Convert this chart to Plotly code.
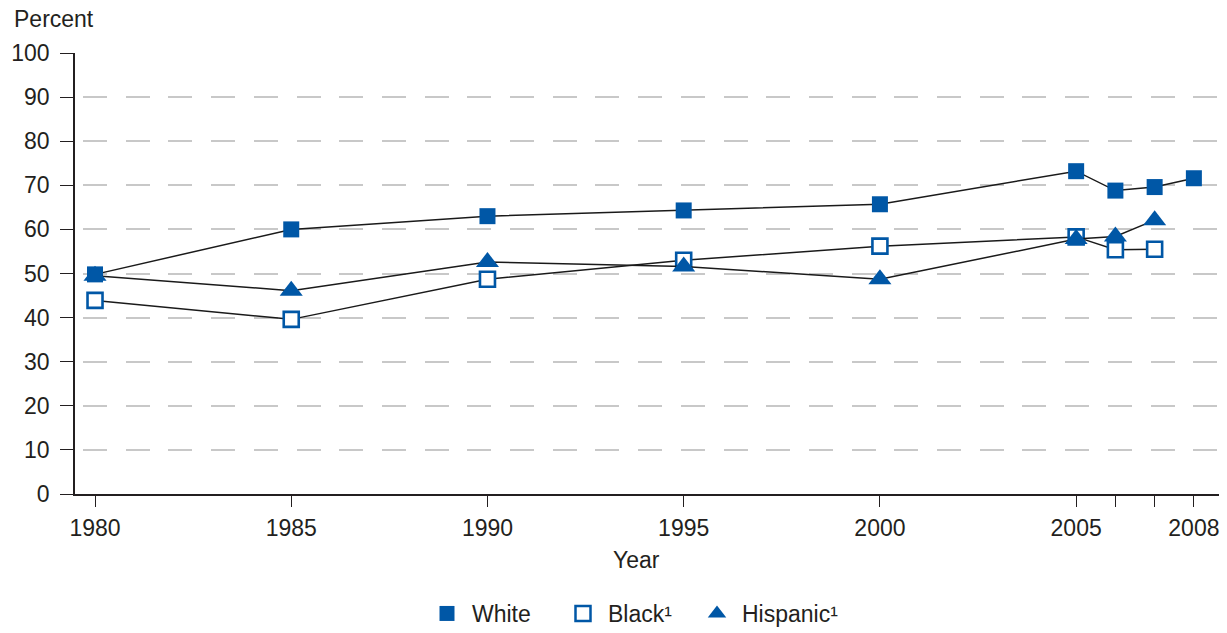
import plotly.graph_objects as go

years = [1980, 1985, 1990, 1995, 2000, 2005, 2006, 2007, 2008]
white = [49.8, 60.0, 63.0, 64.3, 65.7, 73.2, 68.8, 69.6, 71.6]
black_years = [1980, 1985, 1990, 1995, 2000, 2005, 2006, 2007]
black = [43.9, 39.6, 48.7, 53.0, 56.2, 58.3, 55.4, 55.5]
hisp_years = [1980, 1985, 1990, 1995, 2000, 2005, 2006, 2007]
hispanic = [49.5, 46.1, 52.6, 51.6, 48.7, 57.8, 58.4, 62.1]

tick_years = [1980, 1985, 1990, 1995, 2000, 2005, 2006, 2007, 2008]
tick_labels = ["1980", "1985", "1990", "1995", "2000", "2005", "", "", "2008"]
y_ticks = list(range(0, 101, 10))

BLUE = "#0057a6"
TXT = "#231f20"
FONT = "Liberation Sans, Arial, Helvetica, sans-serif"
FS = 23

W, H = 1227, 633
L, R, T, B = 75, 8, 53, 139
PW = W - L - R
PH = H - T - B

fig = go.Figure()

line = dict(color="#1a1a1a", width=1.5)

fig.add_trace(go.Scatter(x=years, y=white, mode="lines+markers", line=line,
                         marker=dict(symbol="square", size=16, color=BLUE, line=dict(width=0)),
                         showlegend=False, hoverinfo="skip"))
fig.add_trace(go.Scatter(x=black_years, y=black, mode="lines+markers", line=line,
                         marker=dict(symbol="square", size=15, color="white",
                                     line=dict(color=BLUE, width=2.6)),
                         showlegend=False, hoverinfo="skip"))
fig.add_trace(go.Scatter(x=hisp_years, y=hispanic, mode="lines+markers", line=line,
                         marker=dict(symbol="triangle-up", size=20, color=BLUE, line=dict(width=0)),
                         showlegend=False, hoverinfo="skip"))

# legend-only entries, one legend each so they can be spaced like the reference
fig.add_trace(go.Scatter(x=[None], y=[None], mode="markers", name="White", legend="legend",
                         marker=dict(symbol="square", size=15, color=BLUE)))
fig.add_trace(go.Scatter(x=[None], y=[None], mode="markers", name="Black¹", legend="legend2",
                         marker=dict(symbol="square", size=15, color="white",
                                     line=dict(color=BLUE, width=2.5))))
fig.add_trace(go.Scatter(x=[None], y=[None], mode="markers", name="Hispanic¹", legend="legend3",
                         marker=dict(symbol="triangle-up", size=18, color=BLUE)))

leg_y = -(592 - (T + PH)) / PH


def leg(px):
    return dict(orientation="h", x=(px - L) / PW, xanchor="left", y=leg_y, yanchor="top",
                font=dict(size=FS, color=TXT), itemwidth=40, bgcolor="rgba(0,0,0,0)")


fig.update_layout(
    width=W, height=H,
    margin=dict(l=L, r=R, t=T, b=B, autoexpand=False),
    paper_bgcolor="white", plot_bgcolor="white",
    font=dict(family=FONT, size=FS, color=TXT),
    showlegend=True,
    hovermode=False,
    legend=leg(422),
    legend2=leg(558),
    legend3=leg(692),
    xaxis=dict(range=[1979.49, 2008.64], tickmode="array", tickvals=tick_years,
               ticktext=tick_labels, ticks="outside", ticklen=11, tickwidth=1.3,
               tickcolor=TXT, showline=True, linecolor=TXT, linewidth=1.5,
               showgrid=False, zeroline=False, ticklabelstandoff=2),
    yaxis=dict(range=[0, 100], tickmode="array", tickvals=y_ticks,
               ticks="outside", ticklen=13, tickwidth=1.3, tickcolor=TXT,
               showline=True, linecolor=TXT, linewidth=1.5,
               showgrid=True, gridcolor="#c8c8c8", gridwidth=1.5,
               griddash="0px,8px,24px,10.7px", zeroline=False, ticklabelstandoff=6),
    annotations=[
        dict(text="Percent", xref="paper", yref="paper", x=(12 - L) / PW,
             y=1 + (T - 19) / PH, xanchor="left", yanchor="middle", showarrow=False,
             font=dict(size=FS, color=TXT)),
        dict(text="Year", xref="paper", yref="paper", x=(636 - L) / PW,
             y=-66 / PH, xanchor="center", yanchor="middle", showarrow=False,
             font=dict(size=FS, color=TXT)),
    ],
)

fig.write_html("out.html", config={"displayModeBar": False},
               post_script="document.body.style.margin='0';document.body.style.padding='0';")
